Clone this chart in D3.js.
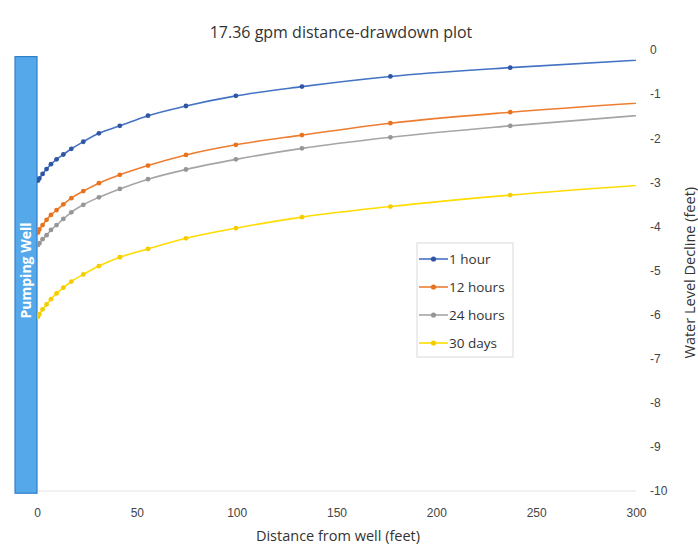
<!DOCTYPE html>
<html>
<head>
<meta charset="utf-8">
<script src="https://cdn.jsdelivr.net/npm/d3@7"></script>
<style>
  body { margin: 0; background: #fff; }
  svg { display: block; font-family: "Open Sans", "Noto Sans", sans-serif; }
</style>
</head>
<body>
<svg id="chart"></svg>
<script>
// distances from well (feet), shared by all series
const distances = [0.5, 1.2, 2.8, 4.8, 7, 9.8, 13.2, 17.2, 23.2, 31, 41.5, 55.6, 74.6, 99.6, 132.7, 177, 237, 316];

const oneHour = [-2.96, -2.91, -2.81, -2.70, -2.59, -2.48, -2.37, -2.24, -2.08, -1.89, -1.72, -1.49, -1.27, -1.04, -0.83, -0.60, -0.40, -0.19];
const twelveHours = [-4.14, -4.07, -3.97, -3.85, -3.74, -3.63, -3.50, -3.36, -3.20, -3.02, -2.83, -2.62, -2.38, -2.15, -1.93, -1.66, -1.41, -1.16];
const twentyFourHours = [-4.42, -4.38, -4.29, -4.20, -4.08, -3.97, -3.83, -3.68, -3.51, -3.34, -3.15, -2.93, -2.71, -2.48, -2.23, -1.98, -1.72, -1.43];
const thirtyDays = [-6.05, -5.99, -5.88, -5.77, -5.65, -5.52, -5.39, -5.25, -5.09, -4.90, -4.70, -4.51, -4.27, -4.04, -3.79, -3.55, -3.29, -3.02];

const seriesNames = ["1 hour", "12 hours", "24 hours", "30 days"];
const seriesValues = [oneHour, twelveHours, twentyFourHours, thirtyDays];
const lineColors = ["#4472c4", "#ed7d31", "#a5a5a5", "#ffdc00"];
const markerColors = ["#2f55a4", "#e8731f", "#969696", "#f5cc00"];

const xTicks = [0, 50, 100, 150, 200, 250, 300];
const yTicks = [0, -1, -2, -3, -4, -5, -6, -7, -8, -9, -10];

const w = 698;
const h = 545;
const margin = { top: 50, right: 62, bottom: 54, left: 37 };

const svg = d3.select("#chart").attr("width", w).attr("height", h);

const xscale = d3.scaleLinear().domain([0, 300]).range([margin.left, w - margin.right]);
const yscale = d3.scaleLinear().domain([-10, 0]).range([h - margin.bottom, margin.top]);

// title
svg.append("text")
  .attr("x", 341).attr("y", 38)
  .attr("text-anchor", "middle")
  .attr("font-size", 16)
  .attr("fill", "#333")
  .text("17.36 gpm distance-drawdown plot");

// bottom axis line
svg.append("line")
  .attr("x1", xscale(0)).attr("x2", xscale(300))
  .attr("y1", yscale(-10)).attr("y2", yscale(-10))
  .attr("stroke", "#e3e3e3").attr("stroke-width", 1);

// x axis
const xAxis = d3.axisBottom(xscale).tickValues(xTicks).tickSize(0).tickPadding(0);
const gx = svg.append("g")
  .attr("transform", `translate(0,${yscale(-10) + 17})`)
  .call(xAxis);
gx.select(".domain").remove();
gx.selectAll("text").attr("font-size", 12).attr("fill", "#444").attr("font-family", "inherit");

// right y axis
const yAxis = d3.axisRight(yscale).tickValues(yTicks).tickSize(0).tickPadding(0)
  .tickFormat((d) => String(d));
const gy = svg.append("g")
  .attr("transform", `translate(${xscale(300) + 14},0)`)
  .call(yAxis);
gy.select(".domain").remove();
gy.selectAll("text").attr("font-size", 12).attr("fill", "#444").attr("font-family", "inherit");

// axis titles
svg.append("text")
  .attr("x", 338).attr("y", 541)
  .attr("text-anchor", "middle")
  .attr("font-size", 14.5)
  .attr("fill", "#333")
  .text("Distance from well (feet)");

svg.append("text")
  .attr("transform", `translate(695,${yscale(-5.05)}) rotate(-90)`)
  .attr("text-anchor", "middle")
  .attr("font-size", 14.5)
  .attr("fill", "#333")
  .text("Water Level Decline (feet)");

// pumping well
const wellLeft = -11;
svg.append("rect")
  .attr("x", xscale(wellLeft))
  .attr("y", yscale(-0.15))
  .attr("width", xscale(0) - xscale(wellLeft))
  .attr("height", yscale(-10.05) - yscale(-0.15))
  .attr("fill", "#55a9ea")
  .attr("stroke", "#2f7fc9")
  .attr("stroke-width", 1.2);

svg.append("text")
  .attr("transform", `translate(${(xscale(wellLeft) + xscale(0)) / 2 + 5},${yscale(-5)}) rotate(-90)`)
  .attr("text-anchor", "middle")
  .attr("font-size", 14)
  .attr("font-weight", "bold")
  .attr("fill", "#fff")
  .text("Pumping Well");

// clip to plot area
svg.append("clipPath").attr("id", "plotclip")
  .append("rect")
  .attr("x", xscale(0))
  .attr("y", 0)
  .attr("width", xscale(300) - xscale(0))
  .attr("height", h);

const line = d3.line()
  .x((d) => xscale(d[0]))
  .y((d) => yscale(d[1]))
  .curve(d3.curveMonotoneX);

const plot = svg.append("g").attr("clip-path", "url(#plotclip)");

seriesValues.forEach((vals, i) => {
  const pts = distances.map((d, j) => [d, vals[j]]);
  plot.append("path")
    .datum(pts)
    .attr("fill", "none")
    .attr("stroke", lineColors[i])
    .attr("stroke-width", 1.6)
    .attr("d", line);
  plot.append("g")
    .attr("fill", markerColors[i])
    .selectAll("circle")
    .data(pts)
    .join("circle")
    .attr("cx", (d) => xscale(d[0]))
    .attr("cy", (d) => yscale(d[1]))
    .attr("r", 2.4);
});

// legend
const legend = svg.append("g").attr("transform", "translate(417,243)");
legend.append("rect")
  .attr("width", 96).attr("height", 114)
  .attr("fill", "#fff")
  .attr("stroke", "#d9d9d9");

seriesNames.forEach((name, i) => {
  const row = legend.append("g").attr("transform", `translate(0,${16 + i * 28})`);
  row.append("line")
    .attr("x1", 2).attr("x2", 31)
    .attr("stroke", lineColors[i]).attr("stroke-width", 1.6);
  row.append("circle")
    .attr("cx", 16.5).attr("r", 2.6)
    .attr("fill", markerColors[i]);
  row.append("text")
    .attr("x", 32).attr("y", 5)
    .attr("font-size", 13.5)
    .attr("fill", "#333")
    .text(name);
});
</script>
</body>
</html>
